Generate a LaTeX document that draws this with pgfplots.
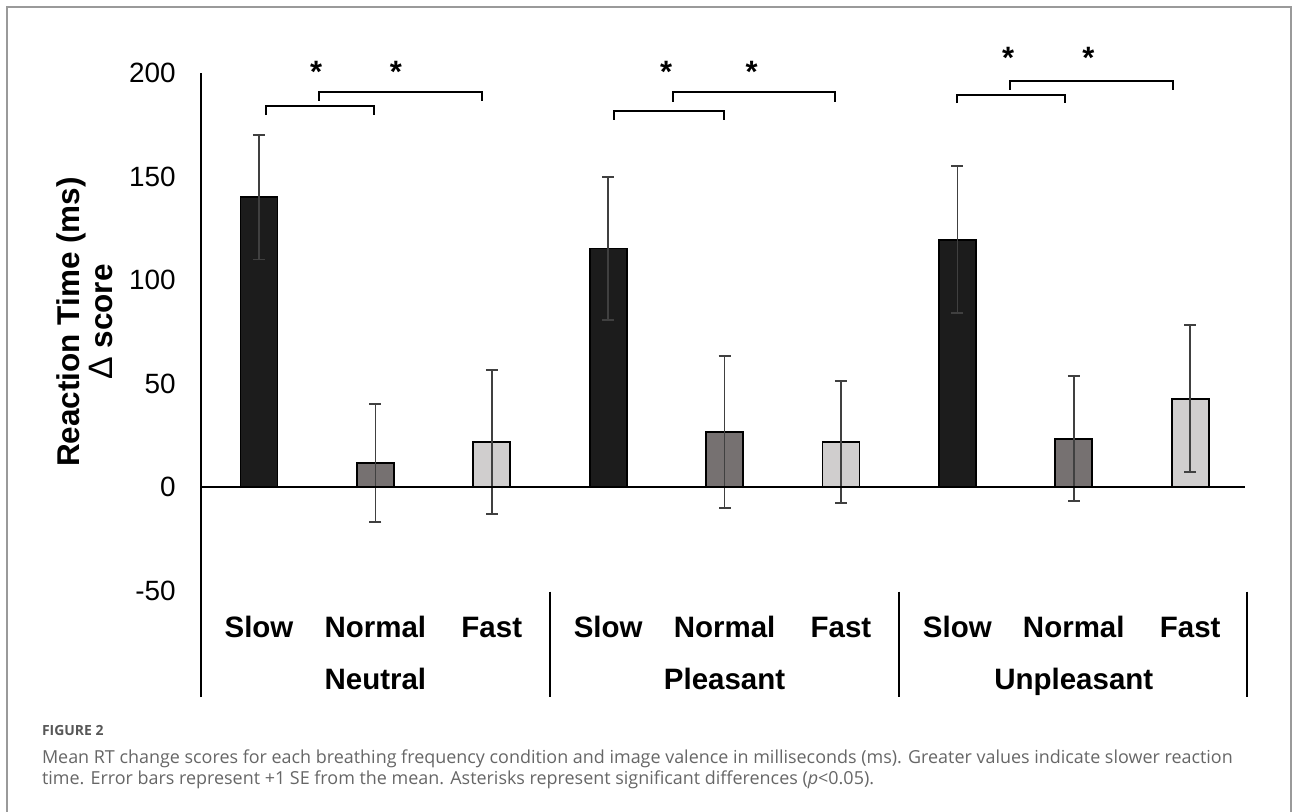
\documentclass[border=0pt]{standalone}
\usepackage{fontspec}
\setmainfont{Liberation Sans}
\newfontfamily\capfont{Open Sans}
\usepackage{pgfplots}
\usepackage{pgfplotstable}
\pgfplotsset{compat=1.18}
\definecolor{slowc}{HTML}{1C1C1C}
\definecolor{normc}{HTML}{767171}
\definecolor{fastc}{HTML}{D0CECE}
\definecolor{errc}{HTML}{404040}
\definecolor{framec}{HTML}{9A9A9A}
\definecolor{capc}{HTML}{666666}

\pgfplotstableread{
x y err
0 140.0 30.0
3 115.2 34.5
6 119.5 35.5
}\slowdata
\pgfplotstableread{
x y err
1 11.6 28.5
4 26.6 36.7
7 23.4 30.2
}\normaldata
\pgfplotstableread{
x y err
2 21.7 34.8
5 21.7 29.5
8 42.7 35.5
}\fastdata

\pgfplotsset{mybar/.style={draw=black, line width=0.9bp, fill=#1,
     error bars/y dir=both, error bars/y explicit,
     error bars/error bar style={line width=0.75bp, errc},
     error bars/error mark options={rotate=90, mark size=3bp, line width=0.75bp, errc}}}
\tikzset{
  brk/.style={line width=1.1bp},
  star/.style={anchor=north, inner sep=0pt, font=\fontsize{15.5}{15.5}\selectfont\bfseries},
  cat/.style={anchor=base, inner sep=0pt, font=\fontsize{14.8}{15}\selectfont\bfseries}}

\begin{document}
\begin{tikzpicture}
\useasboundingbox (0,0) rectangle (647bp,-406bp);
\draw[framec, line width=1bp] (3.5bp,-410bp) -- (3.5bp,-3.5bp) -- (645.5bp,-3.5bp) -- (645.5bp,-410bp);
\begin{axis}[
  at={(100.4bp,-348.5bp)}, anchor=south west,
  scale only axis, width=523.8bp, height=312bp,
  xmin=-0.5, xmax=8.5, ymin=-101.4, ymax=200,
  axis x line=none, axis y line=left,
  axis line style={-, line width=1bp, black},
  ytick={-50,0,50,100,150,200}, xtick=\empty,
  major tick length=0pt,
  /pgf/number format/assume math mode=true,
  yticklabel style={font=\fontsize{14}{16}\selectfont, xshift=-9bp},
  clip=false,
  ybar, bar width=18.5bp, bar shift=0pt,
]
\addplot[mybar=slowc] table[x=x, y=y, y error=err] {\slowdata};
\addplot[mybar=normc] table[x=x, y=y, y error=err] {\normaldata};
\addplot[mybar=fastc] table[x=x, y=y, y error=err] {\fastdata};

\draw[line width=1bp] (axis cs:-0.5,0) -- (axis cs:8.47,0);
\draw[line width=1bp] (axis cs:2.5,-50.5) -- (axis cs:2.5,-101.4);
\draw[line width=1bp] (axis cs:5.5,-50.5) -- (axis cs:5.5,-101.4);
\draw[line width=1bp] (axis cs:8.49,-50.5) -- (axis cs:8.49,-101.4);
% brackets
\draw[brk] (axis cs:0.058,179.7) -- (axis cs:0.058,183.9) -- (axis cs:0.985,183.9) -- (axis cs:0.985,179.7);
\draw[brk] (axis cs:0.513,186.6) -- (axis cs:0.513,191.0) -- (axis cs:1.918,191.0) -- (axis cs:1.918,186.6);
\draw[brk] (axis cs:3.052,177.3) -- (axis cs:3.052,181.8) -- (axis cs:3.992,181.8) -- (axis cs:3.992,177.3);
\draw[brk] (axis cs:3.560,186.0) -- (axis cs:3.560,190.7) -- (axis cs:4.950,190.7) -- (axis cs:4.950,186.0);
\draw[brk] (axis cs:5.994,185.4) -- (axis cs:5.994,189.5) -- (axis cs:6.927,189.5) -- (axis cs:6.927,185.4);
\draw[brk] (axis cs:6.452,191.8) -- (axis cs:6.452,196.1) -- (axis cs:7.855,196.1) -- (axis cs:7.855,191.8);
\node[star] at (axis cs:0.49,206) {*};
\node[star] at (axis cs:1.177,206) {*};
\node[star] at (axis cs:3.497,206) {*};
\node[star] at (axis cs:4.233,206) {*};
\node[star] at (axis cs:6.437,212.7) {*};
\node[star] at (axis cs:7.125,212.7) {*};
% category labels
\node[cat] at (axis cs:0,-72.5) {Slow};
\node[cat] at (axis cs:1,-72.5) {Normal};
\node[cat] at (axis cs:2,-72.5) {Fast};
\node[cat] at (axis cs:3,-72.5) {Slow};
\node[cat] at (axis cs:4,-72.5) {Normal};
\node[cat] at (axis cs:5,-72.5) {Fast};
\node[cat] at (axis cs:6,-72.5) {Slow};
\node[cat] at (axis cs:7,-72.5) {Normal};
\node[cat] at (axis cs:8,-72.5) {Fast};
\node[cat] at (axis cs:1,-97.6) {Neutral};
\node[cat] at (axis cs:4,-97.6) {Pleasant};
\node[cat] at (axis cs:7,-97.6) {Unpleasant};
\end{axis}
\node[rotate=90, align=center, inner sep=0pt, font=\fontsize{15.8}{16.5}\selectfont\bfseries] at (42.5bp,-161bp) {Reaction Time (ms)\\{\mdseries\fontsize{17}{16.5}\selectfont Δ} score};
\node[anchor=base west, inner sep=0pt, text=capc!85!black, font=\capfont\fontsize{7}{8}\selectfont\bfseries] at (20.8bp,-367.5bp) {FIGURE 2};
\node[anchor=base west, inner sep=0pt, text=capc, font=\capfont\fontsize{9.0}{10}\selectfont] at (20.8bp,-381.5bp) {Mean RT change scores for each breathing frequency condition and image valence in milliseconds (ms). Greater values indicate slower reaction};
\node[anchor=base west, inner sep=0pt, text=capc, font=\capfont\fontsize{9.0}{10}\selectfont] at (20.8bp,-392bp) {time. Error bars represent +1 SE from the mean. Asterisks represent significant differences (\textit{p}<0.05).};
\end{tikzpicture}
\end{document}
